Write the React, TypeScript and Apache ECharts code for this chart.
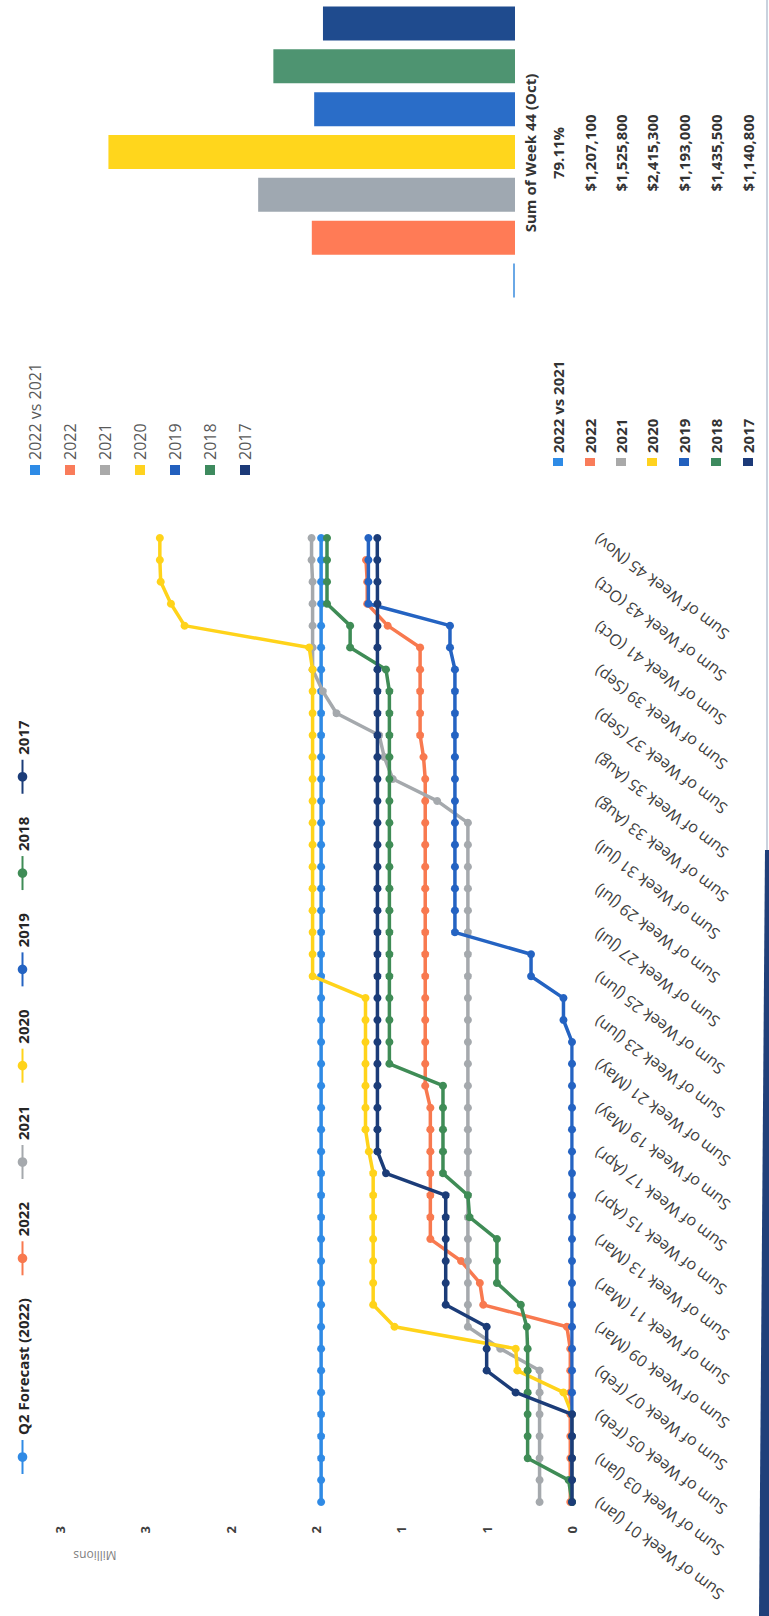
import React, { useEffect, useRef } from "react";
import * as echarts from "echarts";

// ---------- data ----------
const weekMonths = [
  "Jan", "Jan", "Jan", "Jan", "Feb", "Feb", "Feb", "Feb", "Mar", "Mar",
  "Mar", "Mar", "Mar", "Apr", "Apr", "Apr", "Apr", "May", "May", "May",
  "May", "May", "Jun", "Jun", "Jun", "Jun", "Jul", "Jul", "Jul", "Jul",
  "Jul", "Aug", "Aug", "Aug", "Aug", "Sep", "Sep", "Sep", "Sep", "Oct",
  "Oct", "Oct", "Oct", "Oct", "Nov",
];
const weekLabels = weekMonths.map(
  (m, i) => `Sum of Week ${String(i + 1).padStart(2, "0")} (${m})`
);

const lineNames = ["Q2 Forecast (2022)", "2022", "2021", "2020", "2019", "2018", "2017"];
const lineColors = ["#2f8ae5", "#f8794f", "#a5a9ad", "#ffd31a", "#2463c2", "#3f8c56", "#1b3c78"];

// values in millions, weeks 01..45
const forecast2022 = [
  1.47, 1.47, 1.47, 1.47, 1.47, 1.47, 1.47, 1.47, 1.47, 1.47,
  1.47, 1.47, 1.47, 1.47, 1.47, 1.47, 1.47, 1.47, 1.47, 1.47,
  1.47, 1.47, 1.47, 1.47, 1.47, 1.47, 1.47, 1.47, 1.47, 1.47,
  1.47, 1.47, 1.47, 1.47, 1.47, 1.47, 1.47, 1.47, 1.47, 1.47,
  1.47, 1.47, 1.47, 1.47, 1.47,
];
const y2022 = [
  0.01, 0.01, 0.01, 0.01, 0.01, 0.01, 0.01, 0.01, 0.03, 0.52,
  0.54, 0.65, 0.83, 0.83, 0.83, 0.83, 0.83, 0.83, 0.83, 0.86,
  0.86, 0.86, 0.86, 0.86, 0.86, 0.86, 0.86, 0.86, 0.86, 0.86,
  0.86, 0.86, 0.86, 0.86, 0.87, 0.89, 0.89, 0.89, 0.89, 0.89,
  1.08, 1.2, 1.2, 1.207, null,
];
const y2021 = [
  0.19, 0.19, 0.19, 0.19, 0.19, 0.19, 0.19, 0.42, 0.61, 0.61,
  0.61, 0.61, 0.61, 0.61, 0.61, 0.61, 0.61, 0.61, 0.61, 0.61,
  0.61, 0.61, 0.61, 0.61, 0.61, 0.61, 0.61, 0.61, 0.61, 0.61,
  0.61, 0.61, 0.79, 1.05, 1.1, 1.13, 1.38, 1.46, 1.52, 1.52,
  1.52, 1.52, 1.52, 1.526, 1.526,
];
const y2020 = [
  0, 0, 0, 0, 0, 0.05, 0.32, 0.33, 1.04, 1.165,
  1.165, 1.165, 1.165, 1.165, 1.165, 1.165, 1.19, 1.21, 1.21, 1.21,
  1.21, 1.21, 1.21, 1.21, 1.52, 1.52, 1.52, 1.52, 1.52, 1.52,
  1.52, 1.52, 1.52, 1.52, 1.52, 1.52, 1.52, 1.52, 1.52, 1.54,
  2.27, 2.35, 2.41, 2.415, 2.415,
];
const y2019 = [
  0, 0, 0, 0, 0, 0, 0, 0, 0, 0,
  0, 0, 0, 0, 0, 0, 0, 0, 0, 0,
  0, 0, 0.05, 0.05, 0.24, 0.24, 0.686, 0.686, 0.686, 0.686,
  0.686, 0.686, 0.686, 0.686, 0.686, 0.686, 0.686, 0.686, 0.686, 0.715,
  0.715, 1.193, 1.193, 1.193, 1.193,
];
const y2018 = [
  0, 0.02, 0.26, 0.26, 0.26, 0.26, 0.26, 0.26, 0.265, 0.3,
  0.44, 0.44, 0.44, 0.6, 0.61, 0.756, 0.756, 0.756, 0.756, 0.756,
  1.07, 1.07, 1.07, 1.07, 1.07, 1.07, 1.07, 1.07, 1.07, 1.07,
  1.07, 1.07, 1.07, 1.07, 1.07, 1.07, 1.07, 1.07, 1.09, 1.3,
  1.3, 1.4355, 1.4355, 1.4355, 1.4355,
];
const y2017 = [
  0, 0, 0, 0, 0, 0.33, 0.5, 0.5, 0.5, 0.74,
  0.74, 0.74, 0.74, 0.74, 0.74, 1.09, 1.14, 1.14, 1.14, 1.14,
  1.14, 1.14, 1.14, 1.14, 1.14, 1.14, 1.14, 1.14, 1.14, 1.14,
  1.14, 1.14, 1.14, 1.14, 1.14, 1.14, 1.14, 1.14, 1.14, 1.14,
  1.14, 1.14, 1.14, 1.1408, 1.1408,
];
const lineData = [forecast2022, y2022, y2021, y2020, y2019, y2018, y2017];

// Sum of Week 44 (Oct)
const barCategory = ["Sum of Week 44 (Oct)"];
const barNames = ["2022 vs 2021", "2022", "2021", "2020", "2019", "2018", "2017"];
const week44 = [0.7911, 1207100, 1525800, 2415300, 1193000, 1435500, 1140800];
const barColors = ["#6aa8e6", "#ff7b56", "#9fa8b1", "#ffd61c", "#2a6dc8", "#4e9471", "#1f4b8e"];
const keyColors = ["#2e8be6", "#f97c5a", "#a9a9a9", "#ffd21f", "#2260be", "#3d8a5e", "#1c3a78"];

const W = 1616;
const H = 769;
const FONT = "'Open Sans', 'Noto Sans', sans-serif";

function fmtValue(v: number, i: number): string {
  if (i === 0) return (v * 100).toFixed(2) + "%";
  return "$" + v.toLocaleString("en-US");
}

export default function App() {
  const ref = useRef<HTMLDivElement | null>(null);

  useEffect(() => {
    if (!ref.current) return;
    const chart = echarts.init(ref.current, undefined, { renderer: "svg", width: W, height: H });

    const tableRowsY = [558, 590, 621, 652, 684, 716, 748];
    const tableGraphics: any[] = [];
    tableGraphics.push({
      type: "text",
      x: 1463,
      y: 530,
      style: {
        text: barCategory[0],
        align: "center",
        verticalAlign: "middle",
        fontSize: 15,
        fontWeight: "bold",
        fontFamily: FONT,
        fill: "#333333",
      },
    });
    barNames.forEach((name, i) => {
      tableGraphics.push({
        type: "rect",
        shape: { x: 1150, y: tableRowsY[i] - 5, width: 8, height: 10 },
        style: { fill: keyColors[i] },
      });
      tableGraphics.push({
        type: "text",
        x: 1163,
        y: tableRowsY[i],
        style: {
          text: name,
          align: "left",
          verticalAlign: "middle",
          fontSize: 15,
          fontWeight: "bold",
          fontFamily: FONT,
          fill: "#333333",
        },
      });
      tableGraphics.push({
        type: "text",
        x: 1463,
        y: tableRowsY[i],
        style: {
          text: fmtValue(week44[i], i),
          align: "center",
          verticalAlign: "middle",
          fontSize: 15,
          fontWeight: "bold",
          fontFamily: FONT,
          fill: "#333333",
        },
      });
    });

    const option: any = {
      animation: false,
      backgroundColor: "#ffffff",
      textStyle: { fontFamily: FONT },
      legend: [
        {
          data: lineNames,
          left: 136,
          top: 10,
          itemWidth: 34,
          itemHeight: 12,
          itemGap: 22,
          textStyle: { fontSize: 15, fontWeight: "bold", color: "#262626", fontFamily: FONT },
        },
        {
          orient: "vertical",
          left: 1136,
          top: 21,
          itemWidth: 10,
          itemHeight: 10,
          itemGap: 17,
          data: barNames.map((n, i) => ({ name: n, icon: "rect", itemStyle: { color: keyColors[i] } })),
          textStyle: { fontSize: 16, color: "#595959", lineHeight: 18, fontFamily: FONT },
        },
      ],
      grid: [
        { left: 114, right: W - 1078, top: 60, bottom: H - 572, containLabel: false },
        { left: 1314, width: 300, top: 10, bottom: H - 515, containLabel: false },
      ],
      xAxis: [
        {
          type: "category",
          gridIndex: 0,
          data: weekLabels,
          boundaryGap: false,
          axisLine: { show: false },
          axisTick: { show: false },
          axisLabel: {
            interval: 1,
            rotate: 53,
            fontSize: 16,
            color: "#404040",
            margin: 24,
            fontFamily: FONT,
          },
        },
        {
          type: "category",
          gridIndex: 1,
          data: barCategory,
          show: false,
        },
      ],
      yAxis: [
        {
          type: "value",
          gridIndex: 0,
          min: 0,
          max: 3,
          interval: 0.5,
          splitLine: { show: false },
          axisLine: { show: false },
          axisTick: { show: false },
          axisLabel: {
            formatter: (v: number) => String(Math.round(v)),
            fontSize: 13,
            fontWeight: "bold",
            color: "#404040",
            margin: 24,
            fontFamily: FONT,
          },
        },
        {
          type: "value",
          gridIndex: 1,
          min: 0,
          max: 3000000,
          show: false,
        },
      ],
      series: [
        ...lineNames.map((name, i) => ({
          type: "line",
          name,
          xAxisIndex: 0,
          yAxisIndex: 0,
          data: lineData[i],
          symbol: "circle",
          symbolSize: 8,
          showSymbol: true,
          lineStyle: { width: 3.5, color: lineColors[i] },
          itemStyle: { color: lineColors[i] },
          z: 2 + i,
        })),
        ...barNames.map((name, i) => ({
          type: "bar",
          name,
          xAxisIndex: 1,
          yAxisIndex: 1,
          data: [week44[i]],
          barWidth: 34,
          barGap: "26%",
          barMinHeight: i === 0 ? 2 : 0,
          itemStyle: { color: barColors[i] },
        })),
      ],
      graphic: [
        {
          type: "text",
          x: 61,
          y: 95,
          rotation: Math.PI / 2,
          style: {
            text: "Millions",
            align: "center",
            verticalAlign: "middle",
            fontSize: 12,
            fill: "#7f7f7f",
            fontFamily: FONT,
          },
        },
        ...tableGraphics,
        {
          type: "polygon",
          shape: { points: [[0, 759], [766, 765], [766, 769], [0, 769]] },
          style: { fill: "#20407a" },
        },
        {
          type: "rect",
          shape: { x: 766, y: 766, width: W - 766, height: 2 },
          style: { fill: "#c9d2de" },
        },
      ],
    };

    chart.setOption(option);
    return () => {
      chart.dispose();
    };
  }, []);

  return (
    <div
      style={{
        position: "absolute",
        left: 0,
        top: 0,
        width: H,
        height: W,
        overflow: "hidden",
        background: "#ffffff",
      }}
    >
      <div
        ref={ref}
        style={{
          position: "absolute",
          left: 0,
          top: 0,
          width: W,
          height: H,
          transformOrigin: "0 0",
          transform: `translate(0px, ${W}px) rotate(-90deg)`,
        }}
      />
    </div>
  );
}
